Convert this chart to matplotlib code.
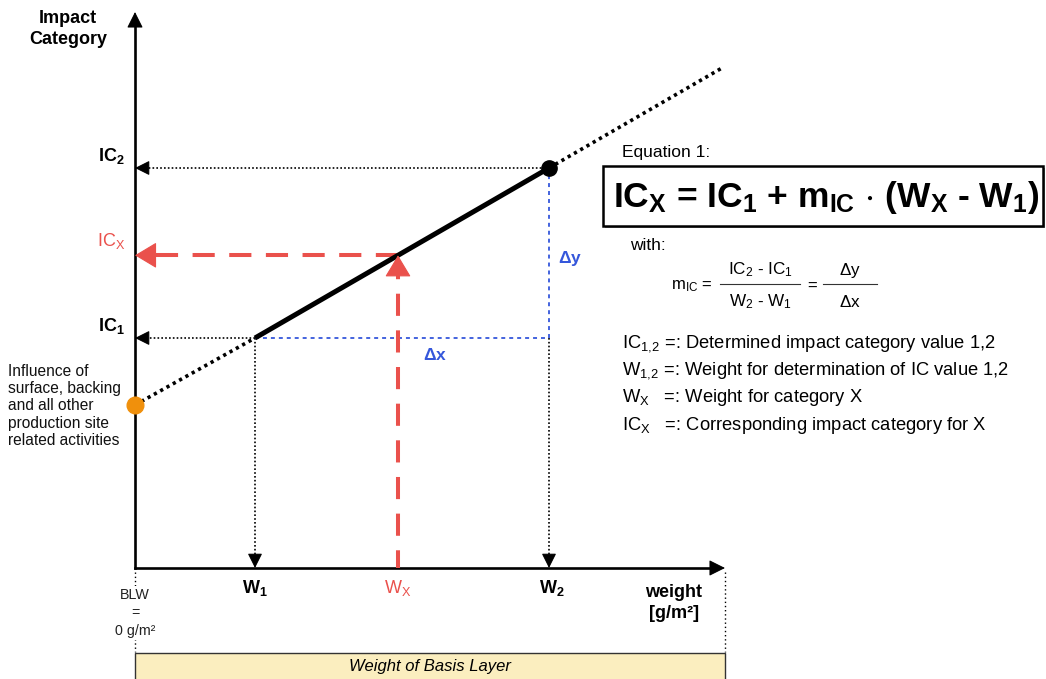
import matplotlib
matplotlib.use('Agg')
import matplotlib.pyplot as plt
from matplotlib.patches import Rectangle

plt.rcParams['font.family'] = ['Liberation Sans', 'DejaVu Sans']
plt.rcParams['mathtext.default'] = 'regular'

# values (chart units, origin = BLW / axis crossing)
w_labels = [r'W$_1$', r'W$_X$', r'W$_2$']
w_values = [120, 263, 414]          # W1, Wx, W2
ic_labels = [r'IC$_1$', r'IC$_2$']
ic_values = [230, 400]              # IC1, IC2
ic_base = 163                       # influence of surface, backing, ...
x_line_end = 587                    # end of dotted extension
x_axis_len = 590
y_axis_len = 556

definitions = [
    r'IC$_{1,\!2}$ =: Determined impact category value 1,2',
    r'W$_{1,\!2}$ =: Weight for determination of IC value 1,2',
    r'W$_X$   =: Weight for category X',
    r'IC$_X$   =: Corresponding impact category for X',
]

RED = '#ea514c'
BLUE = '#3557db'
ORANGE = '#f0900c'
YELLOW = '#fbeebf'

W1, Wx, W2 = w_values
IC1, IC2 = ic_values
m_ic = (IC2 - IC1) / (W2 - W1)
ICx = IC1 + m_ic * (Wx - W1)
y_line_end = IC2 + m_ic * (x_line_end - W2)

# canvas: 1 data unit = 1 pixel, origin at pixel (135, 568)
OX, OY = 135, 568
fig = plt.figure(figsize=(10.46, 6.79), dpi=100)
ax = fig.add_axes([0, 0, 1, 1])
ax.set_xlim(-OX, 1046 - OX)
ax.set_ylim(OY - 679, OY)
ax.axis('off')


def P(x, y):
    # pixel position -> chart units (for text placement)
    return x - OX, OY - y


def head(x0, y0, x1, y1, color, scale=10, hl=0.9, hw=0.45):
    ax.annotate('', xy=(x1, y1), xytext=(x0, y0),
                arrowprops=dict(arrowstyle=f'-|>,head_length={hl},head_width={hw}',
                                color=color, lw=0.8, shrinkA=0, shrinkB=0,
                                mutation_scale=scale))


def dotted_arrow(x0, y0, x1, y1, color='black', lw=1.2):
    ax.plot([x0, x1], [y0, y1], color=color, lw=lw, linestyle=(0, (1, 1.3)))
    dx, dy = x1 - x0, y1 - y0
    d = (dx ** 2 + dy ** 2) ** 0.5
    head(x1 - dx / d * 11, y1 - dy / d * 11, x1, y1, color)


# axes
ax.plot([0, 0], [0, y_axis_len - 10], color='black', lw=1.9)
head(0, y_axis_len - 14, 0, y_axis_len, 'black', scale=11)
ax.plot([0, x_axis_len - 10], [0, 0], color='black', lw=1.9)
head(x_axis_len - 14, 0, x_axis_len, 0, 'black', scale=11)

# projections of W1 / W2
dotted_arrow(W1, IC1, 0, IC1)
dotted_arrow(W1, IC1, W1, 0)
dotted_arrow(W2, IC2, 0, IC2)
ax.plot([W2, W2], [IC1, 0], color='black', lw=1.2, linestyle=(0, (1, 1.3)))
head(W2, 11, W2, 0, 'black')

# delta lines
ax.plot([W1, W2], [IC1, IC1], color=BLUE, lw=1.3, linestyle=(0, (2.2, 2.2)))
ax.plot([W2, W2], [IC1, IC2], color=BLUE, lw=1.3, linestyle=(0, (2.2, 2.2)))
ax.text(*P(435, 355), r'$\Delta$x', color=BLUE, fontsize=12.5, fontweight='bold',
        ha='center', va='center')
ax.text(*P(570, 259), r'$\Delta$y', color=BLUE, fontsize=12.5, fontweight='bold',
        ha='center', va='center')

# red Wx / ICx construction
ax.plot([Wx, Wx], [0, ICx - 16], color=RED, lw=2.9, linestyle=(-8, (5.5, 3.6)))
head(Wx, ICx - 20, Wx, ICx, RED, scale=20, hl=0.7, hw=0.42)
ax.plot([Wx, 16], [ICx, ICx], color=RED, lw=2.9, linestyle=(0, (5.5, 3.6)))
head(20, ICx, 0, ICx, RED, scale=20, hl=0.7, hw=0.42)

# regression line
ax.plot([0, W1], [ic_base, IC1], color='black', lw=2.6, linestyle=(0, (0.9, 1.1)))
ax.plot([W1, W2], [IC1, IC2], color='black', lw=3.6, solid_capstyle='butt')
ax.plot([W2, x_line_end], [IC2, y_line_end], color='black', lw=2.6,
        linestyle=(0, (0.9, 1.1)))
ax.plot([W2], [IC2], 'o', color='black', ms=11)
ax.plot([0], [ic_base], 'o', color=ORANGE, ms=12, zorder=5)

# axis labels
ax.text(*P(68, 29), 'Impact\nCategory', fontsize=13, fontweight='bold',
        ha='center', va='center', linespacing=1.3)
for lab, val in zip(ic_labels, ic_values):
    ax.text(-10, val + 12, lab, fontsize=13, fontweight='bold', ha='right',
            va='center')
ax.text(-10, ICx + 14, r'IC$_X$', fontsize=13, color=RED, ha='right', va='center')
for lab, val in zip(w_labels, w_values):
    red = lab == r'W$_X$'
    ax.text(val + (3 if lab == r'W$_2$' else 0), -20, lab, fontsize=13,
            fontweight='normal' if red else 'bold', color=RED if red else 'black',
            ha='center', va='center')
ax.text(*P(674, 603), 'weight\n[g/m²]', fontsize=13, fontweight='bold',
        ha='center', va='center', linespacing=1.35)
ax.text(*P(135, 613), 'BLW\n=\n0 g/m²', fontsize=10.3, color='#222222',
        ha='center', va='center', linespacing=1.4, zorder=4,
        bbox=dict(facecolor='white', edgecolor='none', pad=1))
ax.text(*P(8, 406), 'Influence of\nsurface, backing\nand all other\nproduction site\n'
        'related activities', fontsize=11.2, ha='left', va='center', linespacing=1.2,
        color='#111111')

# basis layer bar
ax.plot([0, 0], [-4, -84], color='black', lw=1, linestyle=(0, (1, 2)))
ax.plot([x_axis_len, x_axis_len], [-4, -84], color='black', lw=1, linestyle=(0, (1, 2)))
ax.add_patch(Rectangle((0, -120), x_axis_len, 35, facecolor=YELLOW,
                       edgecolor='#333333', lw=1))
ax.text(x_axis_len / 2, -98, 'Weight of Basis Layer', fontsize=12, style='italic',
        ha='center', va='center')

# equation block
ax.text(*P(622, 153), 'Equation 1:', fontsize=12.5, ha='left', va='center')
bx, by = P(603, 226)
ax.add_patch(Rectangle((bx + 2, by - 2), 440, 60, facecolor='#999999',
                       edgecolor='none'))
ax.add_patch(Rectangle((bx, by), 440, 60, facecolor='white', edgecolor='black',
                       lw=1.8))
ax.text(*P(826, 197), r'IC$_X$ = IC$_1$ + m$_{IC}$ $\cdot$ (W$_X$ - W$_1$)',
        fontsize=25.5, fontweight='bold', ha='center', va='center')
ax.text(*P(630, 245), 'with:', fontsize=12.5, ha='left', va='center')

ax.text(*P(692, 286), r'm$_{IC}$ =', fontsize=12, ha='center', va='center')
ax.text(*P(761, 270), r'IC$_2$ - IC$_1$', fontsize=12.3, ha='center', va='center')
ax.text(*P(761, 302), r'W$_2$ - W$_1$', fontsize=12.3, ha='center', va='center')
ax.plot([720 - OX, 800 - OX], [OY - 284, OY - 284], color='#333333', lw=0.8)
ax.text(*P(812, 286), '=', fontsize=12, ha='center', va='center')
ax.text(*P(850, 270), r'$\Delta$y', fontsize=12.3, ha='center', va='center')
ax.text(*P(850, 302), r'$\Delta$x', fontsize=12.3, ha='center', va='center')
ax.plot([823 - OX, 877 - OX], [OY - 284, OY - 284], color='#333333', lw=0.8)

for i, line in enumerate(definitions):
    ax.text(*P(622, 344 + 27 * i), line, fontsize=13.2, ha='left', va='center')

fig.savefig('out.png', dpi=100)
